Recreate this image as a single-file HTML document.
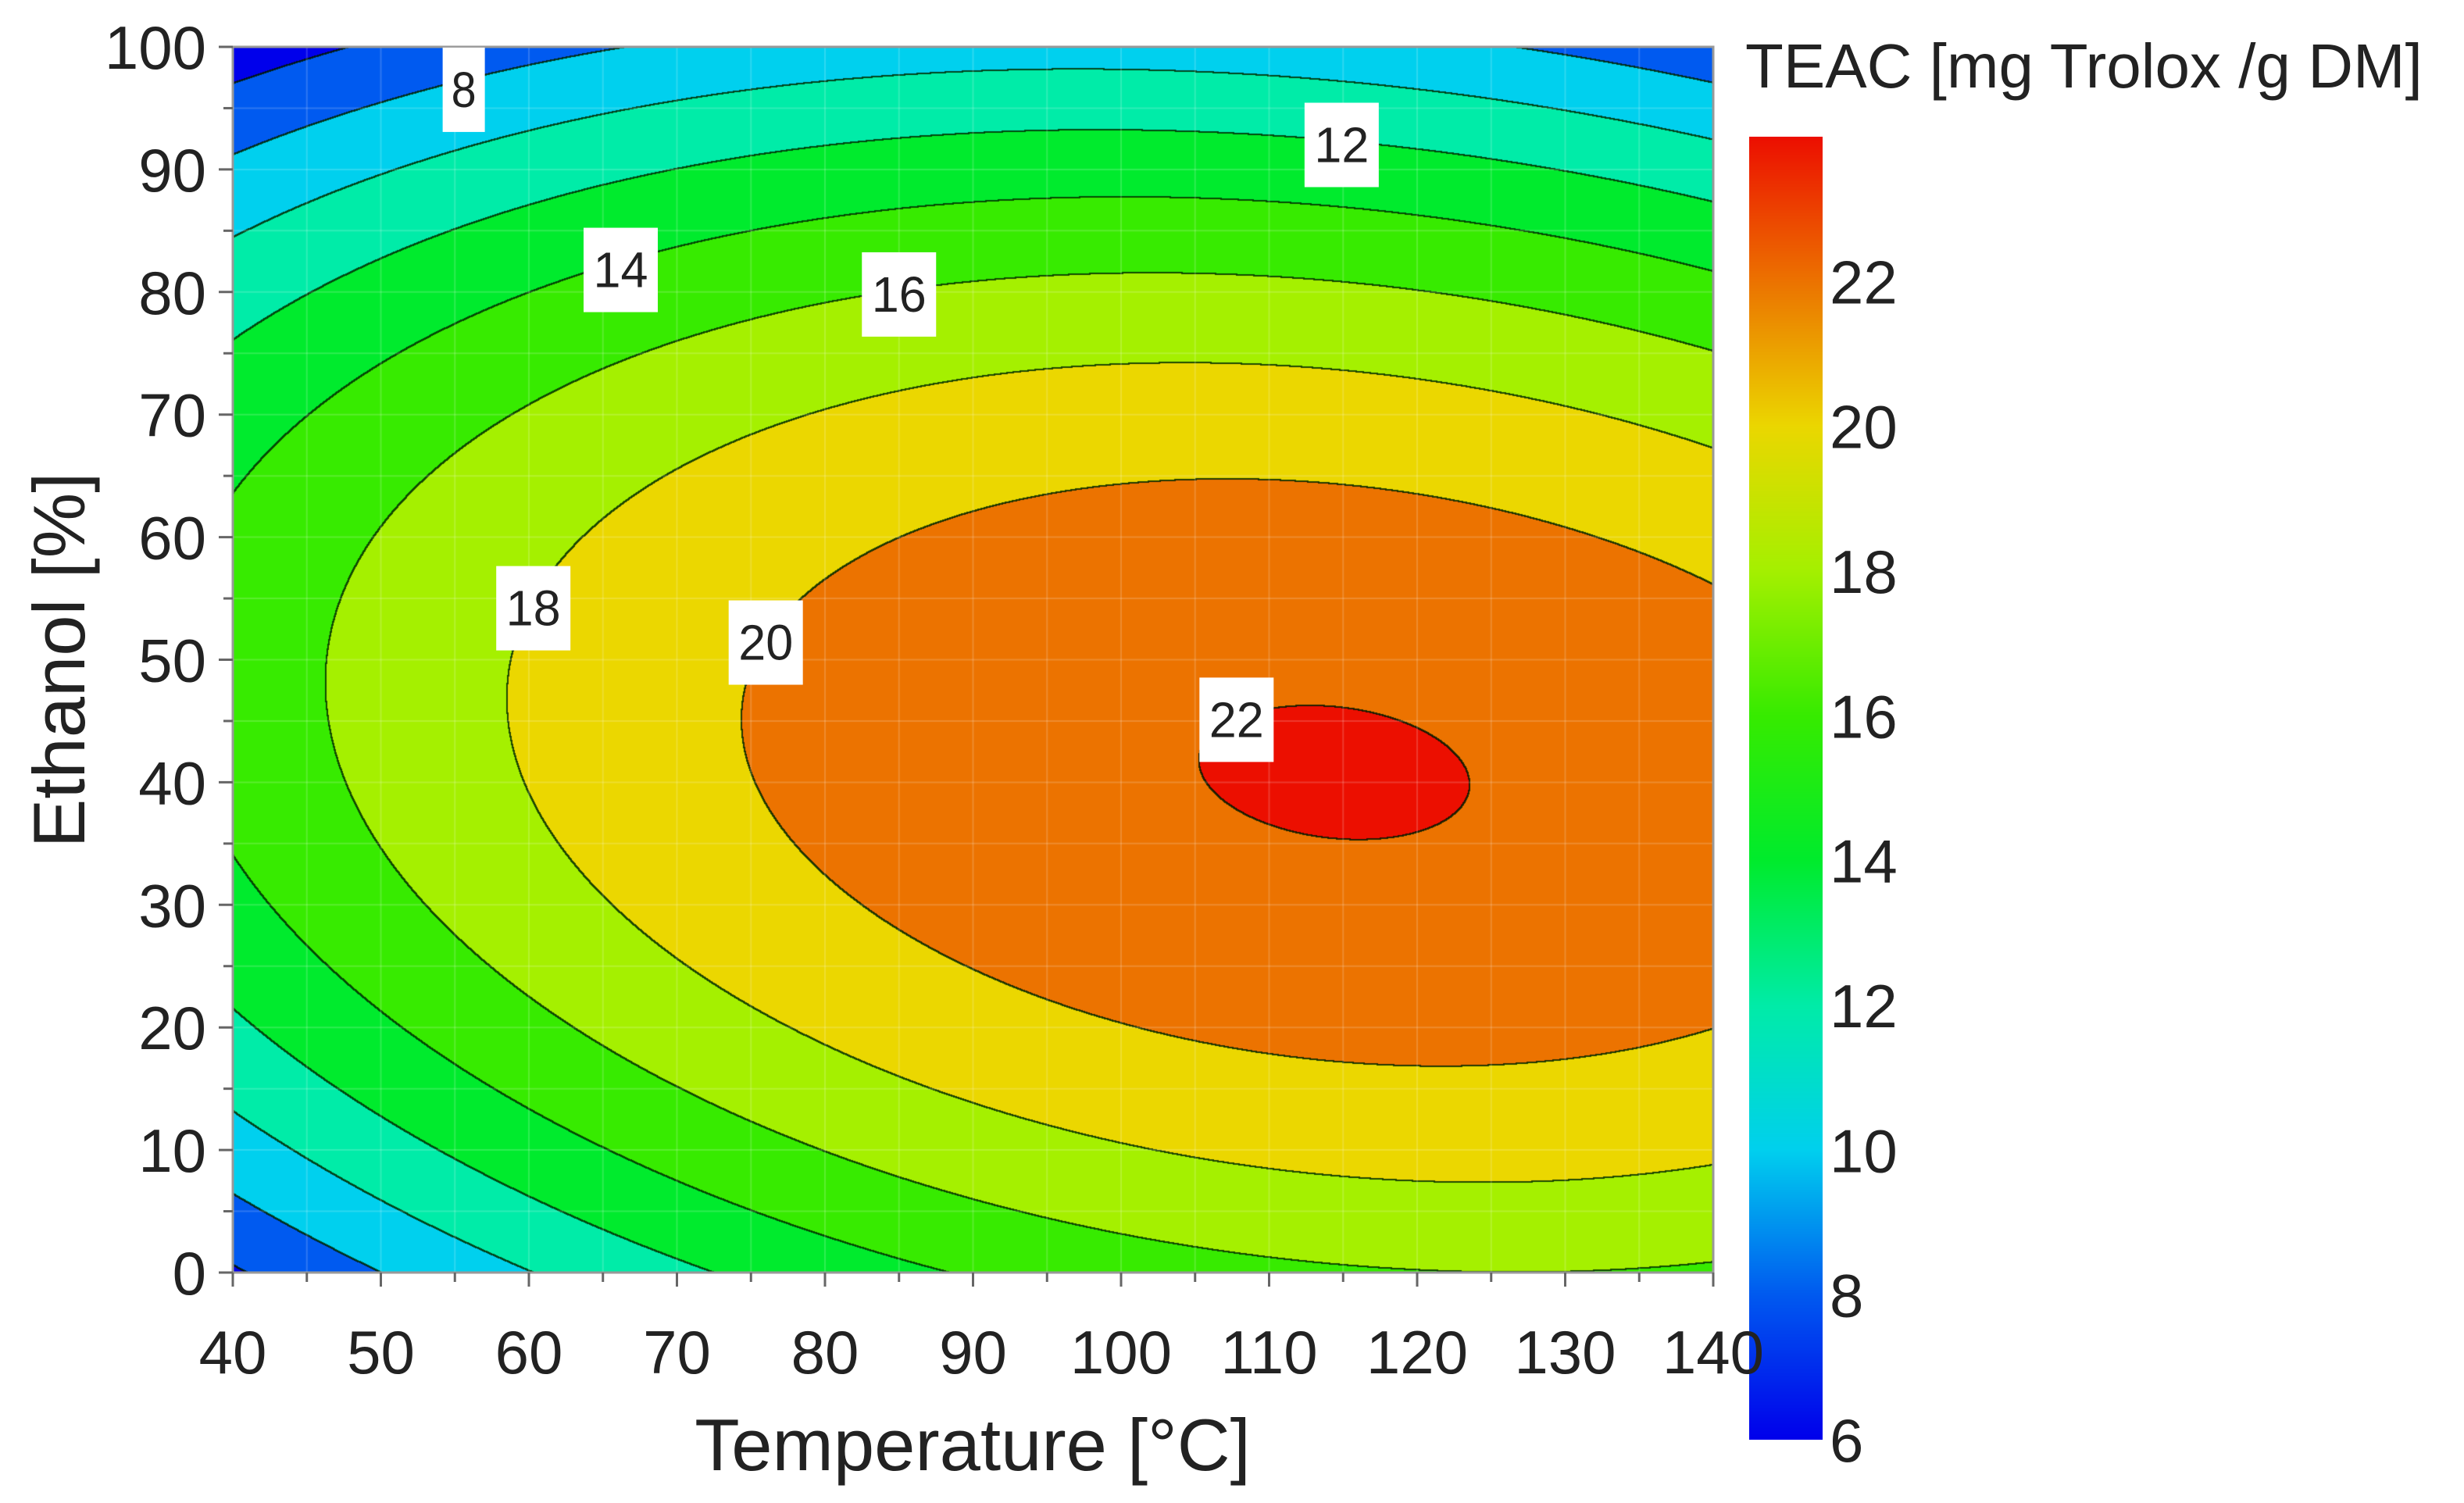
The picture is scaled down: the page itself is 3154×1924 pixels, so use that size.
<!DOCTYPE html>
<html><head><meta charset="utf-8">
<style>
html,body{margin:0;padding:0;background:#fff;}
#root{position:relative;width:3154px;height:1924px;overflow:hidden;font-family:"Liberation Sans",sans-serif;}
canvas{position:absolute;}
svg{position:absolute;left:0;top:0;}
</style></head>
<body>
<div id="root">
<canvas id="plot" width="1895" height="1569" style="left:298px;top:60px"></canvas>
<canvas id="cbar" width="94" height="1668" style="left:2239px;top:175px"></canvas>
<svg id="ov" width="3154" height="1924"></svg>
</div>
<script>
// model: TEAC = fmax - A*(T-T0)^2 - B*(E-E0)^2 - C*(T-T0)*(E-E0)
const modelCoef = [22.11, 114.4, 40.8, 0.00136, 0.0038, 0.00082];
const contourLevels = [6, 8, 10, 12, 14, 16, 18, 20, 22];
const xTicks = [40, 50, 60, 70, 80, 90, 100, 110, 120, 130, 140];
const yTicks = [0, 10, 20, 30, 40, 50, 60, 70, 80, 90, 100];
const cbTicks = [6, 8, 10, 12, 14, 16, 18, 20, 22];
const labelValues = [8, 12, 14, 16, 18, 20, 22];
const labelT = [55.6, 114.9, 66.2, 85.0, 60.3, 76.0, 107.8];
const labelE = [96.5, 92.0, 81.8, 79.8, 54.2, 51.4, 45.1];
const cmapVals = [6, 8, 10, 12, 14, 16, 18, 20, 22, 24];
const cmapCols = [[0,0,235],[0,90,240],[0,208,238],[0,236,168],[0,235,45],[55,235,0],[165,240,0],[235,215,0],[236,115,0],[236,15,0]];

const PX0=298, PX1=2193, PY0=60, PY1=1629;
const X=t=>PX0+(t-40)/100*(PX1-PX0);
const Y=e=>PY1-(e/100)*(PY1-PY0);
const CB0=6, CB1=24, CBT=175, CBB=1843, CBL=2239, CBR=2333;
const CY=v=>CBB-(v-CB0)/(CB1-CB0)*(CBB-CBT);

function model(t,e){const [f,t0,e0,a,b,c]=modelCoef;const dt=t-t0,de=e-e0;return f-a*dt*dt-b*de*de-c*dt*de;}
function cmap(v){
  if(v<=cmapVals[0])return cmapCols[0];
  for(let i=1;i<cmapVals.length;i++){if(v<=cmapVals[i]){const r=(v-cmapVals[i-1])/(cmapVals[i]-cmapVals[i-1]);const a=cmapCols[i-1],b=cmapCols[i];return [a[0]+(b[0]-a[0])*r,a[1]+(b[1]-a[1])*r,a[2]+(b[2]-a[2])*r];}}
  return cmapCols[cmapCols.length-1];
}
function band(v){let i=0;while(i<contourLevels.length&&v>contourLevels[i])i++;return i;}
function bandColor(i){const v=i<contourLevels.length?contourLevels[i]:24;return cmap(v);}

(function(){
  const c=document.getElementById('plot'),ctx=c.getContext('2d');
  const W=c.width,H=c.height;const img=ctx.createImageData(W,H);const d=img.data;
  const B=new Int8Array(W*H);
  for(let y=0;y<H;y++){const e=100-(y+0.5)/H*100;for(let x=0;x<W;x++){const t=40+(x+0.5)/W*100;B[y*W+x]=band(model(t,e));}}
  for(let y=0;y<H;y++)for(let x=0;x<W;x++){
    const i=y*W+x,b=B[i];let col=bandColor(b);
    let edge=false;
    for(let dy=-1;dy<=1&&!edge;dy++)for(let dx=-1;dx<=1;dx++){const xx=x+dx,yy=y+dy;if(xx<0||yy<0||xx>=W||yy>=H)continue;if(B[yy*W+xx]!==b){edge=true;break;}}
    let r=col[0],g=col[1],bl=col[2];
    if(edge){r=r*0.15;g=g*0.25+15;bl=bl*0.15;}
    const p=i*4;d[p]=r;d[p+1]=g;d[p+2]=bl;d[p+3]=255;
  }
  ctx.putImageData(img,0,0);
  ctx.strokeStyle='rgba(255,255,255,0.18)';ctx.lineWidth=2;
  for(let t=45;t<140;t+=5){const x=X(t)-PX0;ctx.beginPath();ctx.moveTo(x,0);ctx.lineTo(x,H);ctx.stroke();}
  for(let e=5;e<100;e+=5){const y=Y(e)-PY0;ctx.beginPath();ctx.moveTo(0,y);ctx.lineTo(W,y);ctx.stroke();}
})();
(function(){
  const c=document.getElementById('cbar'),ctx=c.getContext('2d');
  for(let y=0;y<c.height;y++){const v=CB1-(y+0.5)/c.height*(CB1-CB0);const col=cmap(v);ctx.fillStyle=`rgb(${col[0]|0},${col[1]|0},${col[2]|0})`;ctx.fillRect(0,y,c.width,1);}
})();
const NS='http://www.w3.org/2000/svg';const ov=document.getElementById('ov');
function el(tag,attrs,txt){const e=document.createElementNS(NS,tag);for(const k in attrs)e.setAttribute(k,attrs[k]);if(txt!==undefined)e.textContent=txt;ov.appendChild(e);return e;}
let r=el('rect',{x:PX0,y:PY0,width:PX1-PX0,height:PY1-PY0,fill:'none',stroke:'#999','stroke-width':3});


for(let t=40;t<=140;t+=5){const x=X(t);const L=(t%10===0)?18:12;const ln=el('line',{x1:x,y1:PY1,x2:x,y2:PY1+L,stroke:'#666','stroke-width':3});

}
for(let e=0;e<=100;e+=5){const y=Y(e);const L=(e%10===0)?18:12;const ln=el('line',{x1:PX0-L,y1:y,x2:PX0,y2:y,stroke:'#666','stroke-width':3});

}
xTicks.forEach(t=>{const tx=el('text',{x:X(t),y:1758,'font-size':78,'text-anchor':'middle',fill:'#222'},String(t));

});
yTicks.forEach(e=>{const tx=el('text',{x:264,y:Y(e)+28,'font-size':78,'text-anchor':'end',fill:'#222'},String(e));

});
let xt=el('text',{x:1245,y:1882,'font-size':94,'text-anchor':'middle',fill:'#222'},'Temperature [°C]');


let yt=el('text',{x:0,y:0,'font-size':94,'text-anchor':'middle',fill:'#222',transform:'translate(108,845) rotate(-90)'},'Ethanol [%]');


let ct=el('text',{x:2234,y:112,'font-size':80,fill:'#222'},'TEAC [mg Trolox /g DM]');


cbTicks.forEach(v=>{const tx=el('text',{x:2342,y:CY(v)+28,'font-size':78,fill:'#222'},String(v));

});
labelValues.forEach((v,i)=>{
  const cx=X(labelT[i]),cy=Y(labelE[i]);const s=String(v);const w=s.length>1?95:54,h=108;
  let top=Math.max(PY0,cy-h/2);
  const bx=el('rect',{x:cx-w/2,y:top,width:w,height:cy+h/2-top,fill:'#fff'});
  
  
  const tx=el('text',{x:cx,y:cy+22,'font-size':64,'text-anchor':'middle',fill:'#222',textLength:s.length>1?70:32,lengthAdjust:'spacingAndGlyphs'},s);
  
  
});
</script>
</body></html>
